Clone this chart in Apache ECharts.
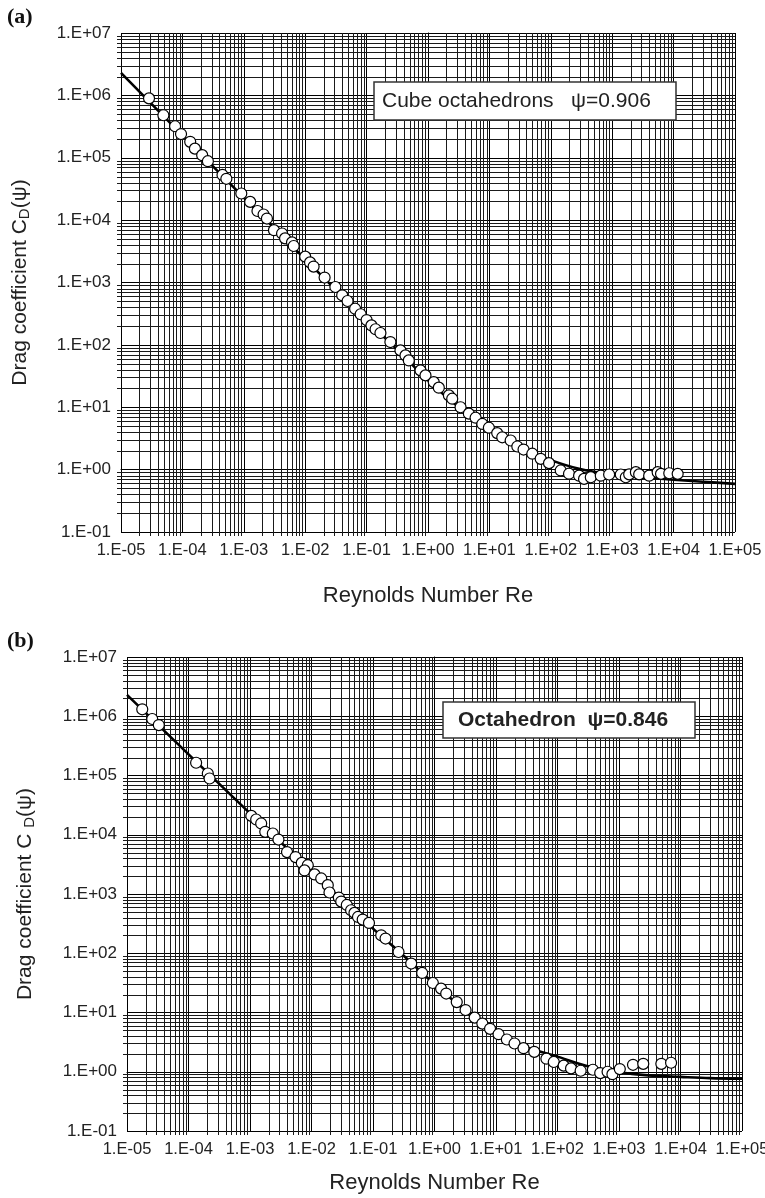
<!DOCTYPE html>
<html><head><meta charset="utf-8">
<script src="https://cdn.jsdelivr.net/npm/echarts@6/dist/echarts.min.js"></script>
<style>html,body{margin:0;padding:0;background:#fff}#c{width:765px;height:1198px}</style>
</head><body><div id="c"></div>
<script>
// ---------- Panel (a): Cube octahedrons, psi = 0.906 ----------
const reA = [2.86e-5,4.9e-5,7.6e-5,9.5e-5,1.34e-4,1.6e-4,2.1e-4,2.6e-4,4.5e-4,5.2e-4,9.1e-4,1.27e-3,1.67e-3,2.1e-3,2.38e-3,3.1e-3,4.2e-3,4.7e-3,6.1e-3,6.5e-3,1.0e-2,1.2e-2,1.37e-2,2.07e-2,3.1e-2,4.0e-2,4.9e-2,0.065,0.08,0.1,0.12,0.14,0.168,0.244,0.356,0.43,0.487,0.755,0.91,1.24,1.5,2.19,2.48,3.39,4.63,5.96,7.66,9.8,13.4,16.2,22.2,28.5,36,50,68.4,93.5,145,198,289,348,448,652,891,1380,1667,1890,2430,2750,4000,5500,6240,8500,11650];
const cdA = [8.96e5,4.8e5,3.2e5,2.4e5,1.8e5,1.4e5,1.1e5,8.8e4,5.3e4,4.6e4,2.67e4,1.96e4,1.4e4,1.23e4,1.06e4,6.9e3,6.1e3,5.1e3,4.4e3,3.85e3,2.6e3,2.1e3,1.8e3,1.2e3,847,624,505,380,310,250,205,178,155,111,81.6,67.8,56.3,39,32.4,25.3,20.6,15.5,13.7,10,7.9,6.8,5.4,4.7,3.85,3.3,2.93,2.35,2.1,1.8,1.49,1.27,0.97,0.86,0.80,0.71,0.755,0.80,0.835,0.835,0.755,0.84,0.91,0.84,0.80,0.91,0.855,0.875,0.855];
const curveReA = [1e-5,1e-3,1e-1,0.3,1,3,10,30,100,300,1000,3000,1e4,3e4,1e5];
const curveCdA = [2.3e6,2.3e4,245,88,27,10.5,4.5,2.3,1.42,1.02,0.83,0.75,0.69,0.64,0.59];

// ---------- Panel (b): Octahedron, psi = 0.846 ----------
const reB = [1.77e-5,2.57e-5,3.29e-5,1.33e-4,2.06e-4,2.2e-4,1.05e-3,1.26e-3,1.52e-3,1.77e-3,2.35e-3,2.9e-3,4.0e-3,5.5e-3,6.95e-3,8.7e-3,7.7e-3,1.12e-2,1.44e-2,1.84e-2,1.96e-2,2.78e-2,3.04e-2,3.75e-2,4.4e-2,5.0e-2,5.7e-2,6.8e-2,8.6e-2,0.136,0.16,0.26,0.418,0.63,0.94,1.28,1.55,2.3,3.2,4.5,6,8,11,15,20,28,41.9,66,87,126,166,238,376,495,652,782,1030,1690,2480,4880,7030];
const cdB = [1.31e6,8.98e5,7.1e5,1.64e5,1.08e5,8.9e4,2.08e4,1.81e4,1.55e4,1.12e4,1.05e4,8.3e3,5.1e3,4.2e3,3.35e3,3.06e3,2.5e3,2.14e3,1.83e3,1.41e3,1.06e3,871,745,653,532,480,410,370,325,201,177,105,67,46.5,31.5,25.3,20.9,15,11,8.2,6.5,5.3,4.3,3.5,3.0,2.5,2.17,1.66,1.46,1.27,1.14,1.04,1.08,0.95,1.0,0.91,1.11,1.31,1.36,1.36,1.42];
const curveReB = [1e-5,1e-3,1e-1,0.3,1,3,10,30,100,300,1000,3000,1e4,3e4,1e5];
const curveCdB = [2.3e6,2.3e4,260,95,30,11.5,5.0,2.65,1.8,1.25,0.98,0.87,0.82,0.78,0.76];

// ---------- Axes ----------
const xTickLabels = ['1.E-05','1.E-04','1.E-03','1.E-02','1.E-01','1.E+00','1.E+01','1.E+02','1.E+03','1.E+04','1.E+05'];
const yTickLabels = ['1.E-01','1.E+00','1.E+01','1.E+02','1.E+03','1.E+04','1.E+05','1.E+06','1.E+07'];
const xMinExp = -5, xMaxExp = 5, yMinExp = -1, yMaxExp = 7;

const FONT = 'Liberation Sans, Arial, sans-serif';
const lg = Math.log10;
const pts = (xs, ys) => xs.map((x, i) => [lg(x), lg(ys[i])]);

function minorLogs(lo, hi) {
  const out = [];
  for (let e = lo; e < hi; e++) for (let k = 2; k <= 9; k++) out.push(lg(k) + e);
  return out;
}
const xMinor = minorLogs(xMinExp, xMaxExp);
const yMinor = minorLogs(yMinExp, yMaxExp);

function vGrid(gi) {
  return {
    type: 'custom', xAxisIndex: gi, yAxisIndex: gi, silent: true, clip: false, z: 1,
    encode: {x: 0, y: 1},
    data: xMinor.map(v => [v, 0]),
    renderItem: (params, api) => {
      const cs = params.coordSys;
      const p = api.coord([api.value(0), api.value(1)]);
      const x = Math.round(p[0]) + 0.5;
      return {type: 'line', shape: {x1: x, y1: cs.y, x2: x, y2: cs.y + cs.height + 4},
              style: {stroke: '#1a1a1a', lineWidth: 1}};
    }
  };
}
function hGrid(gi) {
  return {
    type: 'custom', xAxisIndex: gi, yAxisIndex: gi, silent: true, clip: false, z: 1,
    encode: {x: 0, y: 1},
    data: yMinor.map(v => [0, v]),
    renderItem: (params, api) => {
      const cs = params.coordSys;
      const p = api.coord([api.value(0), api.value(1)]);
      const y = Math.round(p[1]) + 0.5;
      return {type: 'line', shape: {x1: cs.x - 4, y1: y, x2: cs.x + cs.width, y2: y},
              style: {stroke: '#1a1a1a', lineWidth: 1}};
    }
  };
}

function xAxisCfg(gi, gap) {
  return {
    type: 'value', gridIndex: gi, min: xMinExp, max: xMaxExp, interval: 1,
    axisLine: {show: true, lineStyle: {color: '#000', width: 1}},
    axisTick: {show: true, length: 4, lineStyle: {color: '#000'}},
    axisLabel: {formatter: v => xTickLabels[Math.round(v) - xMinExp], fontSize: 16.5, color: '#222',
                fontFamily: FONT, margin: 10, showMinLabel: true, showMaxLabel: true},
    splitLine: {show: true, lineStyle: {color: '#000', width: 1}},
    name: 'Reynolds Number Re', nameLocation: 'middle', nameGap: gap,
    nameTextStyle: {fontSize: 22, color: '#222', fontFamily: FONT}
  };
}
function yAxisCfg(gi, nameText, gap) {
  return {
    type: 'value', gridIndex: gi, min: yMinExp, max: yMaxExp, interval: 1,
    axisLine: {show: true, lineStyle: {color: '#000', width: 1}},
    axisTick: {show: true, length: 4, lineStyle: {color: '#000'}},
    axisLabel: {formatter: v => yTickLabels[Math.round(v) - yMinExp], fontSize: 17, color: '#222',
                fontFamily: FONT, margin: 10, showMinLabel: true, showMaxLabel: true},
    splitLine: {show: true, lineStyle: {color: '#000', width: 1}},
    name: nameText, nameLocation: 'middle', nameGap: gap, nameRotate: 90,
    nameTextStyle: {
      color: '#222', fontFamily: FONT, fontSize: 21,
      rich: {
        n: {fontSize: 21, color: '#222', fontFamily: FONT, lineHeight: 23},
        s: {fontSize: 15, color: '#222', fontFamily: FONT, lineHeight: 10, verticalAlign: 'bottom'}
      }
    }
  };
}

function curveSeries(gi, xs, ys) {
  return {type: 'line', xAxisIndex: gi, yAxisIndex: gi, data: pts(xs, ys), smooth: 0.3,
          showSymbol: false, symbol: 'none', z: 3,
          lineStyle: {color: '#000', width: 2.6}};
}
function pointSeries(gi, xs, ys) {
  return {type: 'scatter', xAxisIndex: gi, yAxisIndex: gi, data: pts(xs, ys), symbol: 'circle',
          symbolSize: 11, z: 4, itemStyle: {color: '#fff', borderColor: '#000', borderWidth: 1.2, opacity: 1}};
}

const chart = echarts.init(document.getElementById('c'), null, {renderer: 'canvas'});
chart.setOption({
  backgroundColor: '#fff',
  animation: false,
  grid: [
    {left: 121, top: 33, width: 614, height: 499, containLabel: false, outerBoundsMode: 'none'},
    {left: 127, top: 657, width: 615, height: 474, containLabel: false, outerBoundsMode: 'none'}
  ],
  xAxis: [xAxisCfg(0, 53), xAxisCfg(1, 41)],
  yAxis: [
    yAxisCfg(0, '{n|Drag coefficient C}{s|D}{n|(\u03C8)}', 89),
    yAxisCfg(1, '{n|Drag coefficient C }{s|D}{n|(\u03C8)}', 90)
  ],
  series: [
    vGrid(0), hGrid(0), curveSeries(0, curveReA, curveCdA), pointSeries(0, reA, cdA),
    vGrid(1), hGrid(1), curveSeries(1, curveReB, curveCdB), pointSeries(1, reB, cdB)
  ],
  graphic: [
    {type: 'text', left: 7, top: 6, z: 100, style: {text: '(a)', font: 'bold 22px "Liberation Serif", serif', fill: '#111'}},
    {type: 'text', left: 7, top: 630, z: 100, style: {text: '(b)', font: 'bold 22px "Liberation Serif", serif', fill: '#111'}},
    {type: 'rect', z: 100, shape: {x: 374, y: 82, width: 302, height: 38},
     style: {fill: '#fff', stroke: '#333', lineWidth: 1.5}},
    {type: 'text', z: 101, x: 382, y: 101,
     style: {text: 'Cube octahedrons   \u03C8=0.906', font: '21px "Liberation Sans", Arial, sans-serif',
             fill: '#222', verticalAlign: 'middle'}},
    {type: 'rect', z: 100, shape: {x: 443, y: 702, width: 252, height: 36},
     style: {fill: '#fff', stroke: '#333', lineWidth: 1.5}},
    {type: 'text', z: 101, x: 458, y: 720,
     style: {text: 'Octahedron  \u03C8=0.846', font: 'bold 21px "Liberation Sans", Arial, sans-serif',
             fill: '#222', verticalAlign: 'middle'}}
  ]
});
</script>
</body></html>
